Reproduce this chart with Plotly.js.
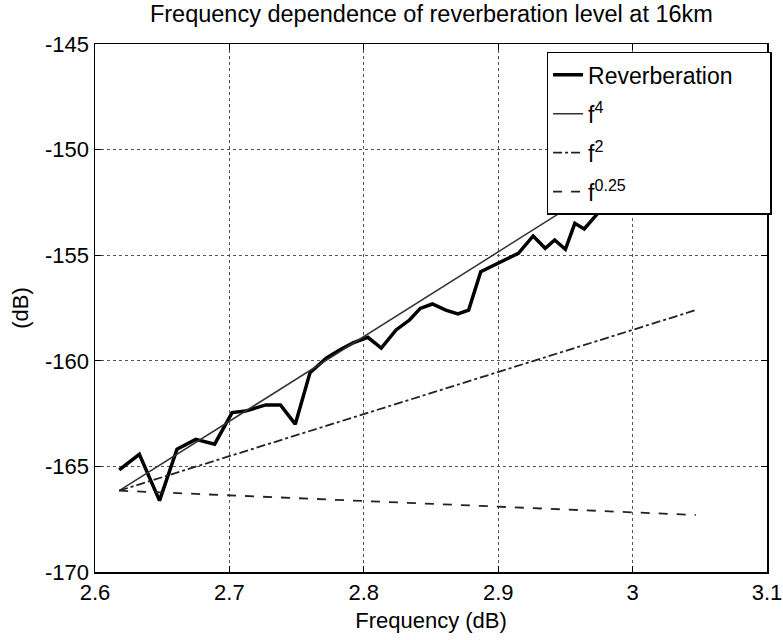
<!DOCTYPE html>
<html>
<head>
<meta charset="utf-8">
<script src="https://cdn.plot.ly/plotly-3.0.1.min.js"></script>
<style>html,body{margin:0;padding:0;background:#fff;}#chart{width:783px;height:640px;}</style>
</head>
<body>
<div id="chart"></div>
<script>
// Reverberation level
var revFreq = [2.618,2.633,2.648,2.661,2.675,2.689,2.702,2.712,2.727,2.738,2.749,2.760,2.772,2.782,2.792,2.803,2.813,2.824,2.834,2.842,2.851,2.861,2.870,2.878,2.887,2.895,2.905,2.915,2.926,2.935,2.942,2.950,2.957,2.964,2.974,2.985,2.995,3.005,3.015,3.025,3.035,3.047];
var revLevel = [-165.17,-164.43,-166.62,-164.19,-163.72,-163.95,-162.45,-162.38,-162.09,-162.09,-163.0,-160.56,-159.88,-159.49,-159.15,-158.89,-159.4,-158.54,-158.07,-157.52,-157.31,-157.6,-157.78,-157.6,-155.78,-155.54,-155.23,-154.91,-154.09,-154.67,-154.28,-154.72,-153.49,-153.76,-153.02,-152.4,-152.0,-151.6,-151.3,-150.8,-150.5,-150.0];
// Reference power-law lines (end points)
var refFreq = [2.618, 3.047];
var f4Level = [-166.15, -148.95];
var f2Level = [-166.15, -157.6];
var f025Level = [-166.15, -167.3];
var xTicks = [2.6, 2.7, 2.8, 2.9, 3.0, 3.1];
var xTickText = ['2.6','2.7','2.8','2.9','3','3.1'];
var yTicks = [-170, -165, -160, -155, -150, -145];
var yTickText = ['-170','-165','-160','-155','-150','-145'];
var seriesNames = ['Reverberation', 'f<sup>4</sup>', 'f<sup>2</sup>', 'f<sup>0.25</sup>'];

var FONT = '"Liberation Sans Narrow", "Liberation Sans", Arial, sans-serif';
var PAD = '\u00a0\u00a0\u00a0\u00a0\u00a0';

var traces = [
  {x: revFreq, y: revLevel, mode: 'lines', name: seriesNames[0] + PAD, legendgroup: 'a',
   line: {color: '#000', width: 3.5}},
  {x: refFreq, y: f4Level, mode: 'lines', name: seriesNames[1], legendgroup: 'b',
   line: {color: '#333', width: 1.5}},
  {x: refFreq, y: f2Level, mode: 'lines', name: seriesNames[2], legendgroup: 'c',
   line: {color: '#222', width: 1.8, dash: 'dashdot'}},
  {x: refFreq, y: f025Level, mode: 'lines', name: seriesNames[3], legendgroup: 'd',
   line: {color: '#222', width: 1.8, dash: 'dash'}}
];

var layout = {
  width: 783, height: 640,
  margin: {l: 95, r: 15, t: 44, b: 68},
  paper_bgcolor: '#fff', plot_bgcolor: '#fff',
  font: {family: FONT, color: '#000', size: 22},
  title: {text: 'Frequency dependence of reverberation level at 16km',
          font: {family: FONT, size: 23.5, color: '#000'},
          x: 0.551, xanchor: 'center', y: 0.979, yanchor: 'middle'},
  xaxis: {range: [2.6, 3.1], tickvals: xTicks, ticktext: xTickText,
          showline: true, mirror: 'ticks', linecolor: '#000', linewidth: 1.5,
          ticks: 'inside', ticklen: 6, tickcolor: '#000',
          showgrid: true, gridcolor: '#555', griddash: 'dot', gridwidth: 1,
          zeroline: false, tickfont: {size: 22}, ticklabeloverflow: 'allow',
          title: {text: 'Frequency (dB)', font: {size: 22}, standoff: 8}},
  yaxis: {range: [-170, -145], tickvals: yTicks, ticktext: yTickText,
          showline: true, mirror: 'ticks', linecolor: '#000', linewidth: 1.5,
          ticks: 'inside', ticklen: 6, tickcolor: '#000',
          showgrid: true, gridcolor: '#555', griddash: 'dot', gridwidth: 1,
          zeroline: false, tickfont: {size: 22},
          title: {text: '(dB)', font: {size: 22}, standoff: 10}},
  legend: {x: 0.671, y: 0.985, xanchor: 'left', yanchor: 'top',
           bgcolor: '#fff', bordercolor: '#000', borderwidth: 1.5,
           font: {size: 23, family: FONT}, tracegroupgap: 6},
  showlegend: true
};

Plotly.newPlot('chart', traces, layout, {staticPlot: true, displayModeBar: false});
</script>
</body>
</html>
